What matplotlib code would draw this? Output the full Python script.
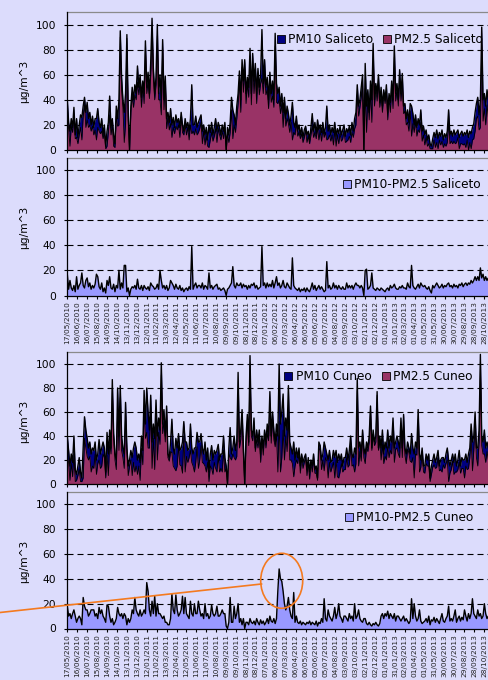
import numpy as np
import pandas as pd
import matplotlib
matplotlib.use("Agg")
import matplotlib.pyplot as plt
from matplotlib.patches import Rectangle, Ellipse
from matplotlib.lines import Line2D

# ---------------- data (one sample every 4 days) -------------
start_date = "17/05/2010"
sample_step_days = 4

date_labels = [
    "17/05/2010", "16/06/2010", "16/07/2010", "15/08/2010", "14/09/2010", "14/10/2010",
    "13/11/2010", "13/12/2010", "12/01/2011", "11/02/2011", "13/03/2011", "12/04/2011",
    "12/05/2011", "11/06/2011", "11/07/2011", "10/08/2011", "09/09/2011", "09/10/2011",
    "08/11/2011", "08/12/2011", "07/01/2012", "06/02/2012", "07/03/2012", "06/04/2012",
    "06/05/2012", "05/06/2012", "05/07/2012", "04/08/2012", "03/09/2012", "03/10/2012",
    "02/11/2012", "02/12/2012", "01/01/2013", "31/01/2013", "02/03/2013", "01/04/2013",
    "01/05/2013", "31/05/2013", "30/06/2013", "30/07/2013", "29/08/2013", "28/09/2013",
    "28/10/2013",
]

pm10_saliceto = [
    40, 22, 15, 25, 18, 34, 12, 25, 10, 20,
    28, 26, 35, 42, 30, 38, 25, 30, 20, 27,
    18, 25, 25, 33, 22, 18, 25, 12, 20, 3,
    15, 22, 43, 18, 25, 12, 5, 35, 25, 40,
    95, 58, 40, 30, 45, 92, 30, 0, 35, 50,
    40, 52, 45, 67, 50, 60, 42, 55, 45, 87,
    50, 62, 45, 70, 105, 65, 45, 58, 100, 45,
    60, 40, 88, 40, 59, 25, 30, 22, 33, 20,
    26, 18, 28, 22, 25, 18, 30, 20, 15, 25,
    18, 22, 15, 25, 52, 20, 20, 27, 18, 22,
    25, 28, 15, 20, 12, 18, 8, 20, 14, 22,
    12, 18, 25, 15, 22, 18, 12, 20, 15, 22,
    0, 18, 12, 22, 42, 32, 28, 20, 35, 45,
    63, 40, 72, 55, 72, 45, 58, 50, 81, 45,
    77, 55, 69, 45, 65, 50, 60, 96, 53, 72,
    50, 58, 40, 62, 45, 55, 40, 93, 53, 45,
    50, 35, 45, 30, 42, 25, 35, 29, 20, 27,
    38, 22, 18, 27, 15, 20, 12, 18, 10, 16,
    19, 12, 15, 8, 18, 29, 15, 22, 13, 24,
    16, 20, 14, 22, 13, 18, 35, 15, 20, 12,
    18, 14, 22, 11, 17, 13, 19, 12, 16, 20,
    11, 17, 14, 19, 12, 22, 15, 25, 30, 52,
    35, 40, 50, 60, 0, 69, 35, 48, 30, 55,
    40, 85, 40, 53, 45, 60, 38, 50, 35, 48,
    40, 52, 30, 45, 38, 55, 40, 83, 45, 53,
    40, 64, 45, 61, 35, 37, 25, 32, 22, 37,
    35, 29, 20, 28, 18, 25, 20, 32, 15, 19,
    12, 16, 8, 12, 5, 3, 9, 14, 10, 16,
    9, 14, 11, 16, 8, 13, 10, 15, 32, 12,
    15, 11, 16, 12, 14, 16, 10, 13, 15, 11,
    14, 12, 16, 10, 15, 13, 18, 21, 30, 37,
    42, 28, 40, 98, 40, 45, 35, 48, 40, 50,
    45,
]

coarse_saliceto = [  # PM10 - PM2.5
    17, 5, 12, 6, 4, 8, 3, 15, 5, 8,
    10, 18, 8, 6, 12, 14, 7, 10, 5, 8,
    6, 9, 17, 15, 7, 5, 10, 3, 6, 2,
    12, 8, 15, 6, 5, 9, 3, 8, 6, 20,
    5, 10, 6, 24, 24, 3, 6, 0, 5, 7,
    6, 8, 5, 13, 6, 5, 8, 4, 8, 6,
    5, 7, 4, 10, 8, 7, 5, 6, 9, 5,
    20, 12, 6, 8, 5, 8, 4, 6, 12, 10,
    8, 5, 9, 6, 5, 8, 4, 6, 3, 5,
    6, 4, 7, 5, 39, 5, 8, 10, 6, 8,
    8, 6, 10, 5, 8, 7, 5, 18, 6, 8,
    5, 7, 8, 9, 5, 6, 4, 5, 6, 4,
    0, 5, 6, 8, 10, 23, 8, 6, 10, 8,
    8, 10, 6, 9, 7, 8, 5, 8, 6, 9,
    8, 10, 6, 8, 5, 6, 7, 39, 8, 10,
    6, 10, 7, 9, 7, 12, 6, 10, 15, 8,
    10, 6, 8, 12, 7, 6, 10, 8, 6, 5,
    30, 8, 6, 5, 4, 6, 3, 5, 4, 6,
    3, 6, 4, 3, 6, 10, 5, 8, 4, 6,
    8, 5, 7, 5, 3, 4, 27, 6, 8, 5,
    6, 10, 6, 8, 5, 8, 6, 5, 7, 5,
    5, 10, 6, 8, 6, 8, 5, 8, 10, 8,
    8, 6, 8, 6, 0, 20, 21, 5, 6, 8,
    18, 6, 5, 4, 6, 5, 4, 6, 5, 4,
    3, 5, 6, 4, 8, 6, 7, 9, 6, 5,
    5, 7, 6, 8, 6, 6, 5, 10, 7, 6,
    24, 8, 6, 5, 7, 9, 6, 10, 8, 7,
    8, 6, 5, 7, 4, 2, 8, 6, 8, 10,
    8, 6, 7, 9, 6, 8, 7, 9, 10, 7,
    8, 6, 9, 7, 8, 6, 9, 8, 10, 7,
    9, 10, 8, 10, 9, 12, 10, 12, 15, 12,
    15, 12, 22, 14, 17, 12, 15, 12, 14, 12,
    14,
]

pm10_cuneo = [
    40, 28, 15, 25, 18, 40, 12, 8, 15, 22,
    10, 5, 30, 56, 45, 38, 30, 35, 25, 30,
    28, 35, 20, 25, 37, 25, 30, 35, 30, 10,
    43, 25, 45, 30, 87, 42, 25, 20, 80, 40,
    82, 40, 30, 25, 68, 30, 15, 20, 28, 22,
    30, 35, 30, 20, 25, 18, 40, 28, 78, 50,
    80, 60, 45, 74, 35, 50, 38, 70, 40, 55,
    45, 101, 50, 62, 40, 65, 25, 22, 35, 54,
    30, 25, 38, 30, 42, 28, 30, 35, 52, 35,
    35, 28, 30, 50, 30, 25, 30, 30, 43, 35,
    35, 42, 30, 25, 35, 20, 30, 10, 25, 32,
    20, 28, 25, 28, 33, 20, 25, 25, 40, 22,
    15, 0, 30, 47, 25, 30, 40, 28, 35, 93,
    35, 45, 62, 30, 0, 40, 58, 35, 107, 45,
    40, 55, 30, 45, 35, 45, 25, 40, 30, 45,
    35, 50, 40, 77, 40, 60, 45, 35, 50, 40,
    100, 50, 60, 75, 40, 55, 45, 82, 35, 30,
    25, 35, 20, 30, 22, 30, 15, 25, 18, 22,
    25, 12, 22, 10, 20, 15, 25, 12, 15, 5,
    35, 32, 20, 25, 35, 30, 25, 20, 28, 18,
    20, 28, 22, 28, 18, 25, 20, 25, 15, 22,
    22, 30, 20, 28, 40, 25, 22, 30, 25, 88,
    30, 35, 25, 45, 30, 25, 35, 30, 40, 65,
    30, 45, 35, 40, 77, 30, 40, 30, 45, 25,
    35, 30, 45, 30, 40, 35, 55, 30, 35, 40,
    35, 30, 55, 30, 58, 30, 25, 35, 30, 25,
    42, 30, 25, 35, 30, 62, 25, 20, 30, 15,
    15, 25, 20, 25, 5, 15, 20, 25, 18, 22,
    28, 15, 20, 22, 22, 18, 25, 30, 20, 15,
    20, 25, 18, 25, 15, 20, 28, 15, 22, 20,
    20, 25, 18, 25, 30, 50, 35, 40, 60, 30,
    30, 45, 108, 40, 35, 45, 30, 35, 30, 25,
    25,
]

coarse_cuneo = [  # PM10 - PM2.5
    18, 10, 12, 8, 12, 15, 10, 5, 8, 10,
    8, 3, 25, 18, 15, 15, 10, 12, 15, 15,
    15, 10, 12, 8, 17, 12, 15, 10, 8, 5,
    19, 18, 10, 5, 8, 3, 5, 8, 17, 12,
    10, 12, 8, 12, 10, 3, 8, 5, 8, 15,
    12, 25, 15, 12, 10, 15, 10, 12, 15, 12,
    37, 30, 15, 10, 22, 12, 26, 10, 20, 12,
    12, 10, 8, 10, 5, 5, 3, 3, 8, 28,
    15, 12, 27, 15, 10, 12, 15, 26, 12, 25,
    12, 10, 8, 22, 12, 10, 20, 12, 12, 22,
    15, 10, 12, 8, 20, 10, 12, 8, 10, 19,
    12, 10, 12, 18, 10, 10, 12, 15, 12, 12,
    2, 0, 5, 25, 5, 5, 18, 8, 12, 20,
    5, 8, 3, 8, 0, 5, 5, 3, 8, 5,
    4, 6, 3, 8, 5, 3, 7, 4, 6, 3,
    5, 8, 4, 10, 6, 5, 8, 4, 8, 30,
    48, 40, 38, 30, 20, 15, 18, 25, 15, 10,
    8, 29, 5, 10, 5, 4, 6, 3, 5, 4,
    3, 5, 4, 6, 3, 5, 4, 3, 6, 2,
    5, 4, 8, 5, 24, 8, 6, 15, 10, 8,
    6, 10, 17, 8, 12, 20, 10, 8, 5, 10,
    10, 8, 6, 12, 8, 10, 6, 20, 8, 10,
    15, 8, 6, 5, 8, 8, 4, 3, 5, 3,
    2, 4, 3, 5, 3, 2, 4, 10, 12, 8,
    12, 10, 14, 8, 12, 10, 8, 12, 6, 10,
    10, 8, 6, 8, 10, 6, 8, 6, 4, 6,
    24, 8, 20, 10, 6, 8, 15, 6, 4, 5,
    6, 8, 5, 10, 3, 7, 6, 9, 5, 8,
    6, 4, 8, 12, 6, 5, 8, 10, 18, 6,
    8, 6, 10, 15, 5, 8, 10, 6, 9, 7,
    15, 10, 6, 12, 8, 12, 24, 12, 10, 8,
    15, 10, 12, 8, 10, 20, 12, 8, 10, 12,
    10,
]

legend_top_sal = ["PM10 Saliceto", "PM2.5 Saliceto"]
legend_diff_sal = "PM10-PM2.5 Saliceto"
legend_top_cun = ["PM10 Cuneo", "PM2.5 Cuneo"]
legend_diff_cun = "PM10-PM2.5 Cuneo"
y_label = "µg/m^3"
y_ticks = [0, 20, 40, 60, 80, 100]

# ---------------- styling ----------------
BG = "#DCDCFC"
NAVY = "#000080"
PLUM = "#993366"
PERI = "#9999FF"
ORANGE = "#F47A1F"
plt.rcParams["font.family"] = ["DejaVu Sans"]

W, H = 488, 680
fig = plt.figure(figsize=(W / 100, H / 100), dpi=100, facecolor=BG)


def fx(x):
    return x / W


def fy(y):
    return 1 - y / H


start = pd.to_datetime(start_date, dayfirst=True)
tick_pos = (pd.to_datetime(date_labels, dayfirst=True) - start).days.values
days = np.arange(len(pm10_saliceto)) * sample_step_days

pm10_s = np.array(pm10_saliceto, float)
co_s = np.array(coarse_saliceto, float)
pm25_s = np.maximum(pm10_s - co_s, 0)
pm10_c = np.array(pm10_cuneo, float)
co_c = np.array(coarse_cuneo, float)
pm25_c = np.maximum(pm10_c - co_c, 0)

LEFT, RIGHT = 67.3, 497.6
XMAX = 1300

panels = [(12.0, 150.0), (157.5, 295.5), (352.0, 484.0), (492.0, 628.5)]
ylabel_centers = [81.5, 227.0, 421.0, 561.0]


def make_ax(top, bottom, labels):
    ax = fig.add_axes([fx(LEFT), fy(bottom), (RIGHT - LEFT) / W, (bottom - top) / H])
    ax.set_facecolor(BG)
    ax.set_xlim(0, XMAX)
    ax.set_ylim(0, 110)
    ax.set_yticks(y_ticks)
    ax.set_axisbelow(True)
    ax.yaxis.grid(True, color="black", linestyle=(0, (5.4, 3.6)), linewidth=0.8)
    for s in ("top", "right"):
        ax.spines[s].set_color("#8a8a8a")
        ax.spines[s].set_linewidth(0.9)
    for s in ("left", "bottom"):
        ax.spines[s].set_color("black")
        ax.spines[s].set_linewidth(0.9)
        ax.spines[s].set_zorder(6)
    ax.tick_params(axis="y", length=2.5, width=0.8, pad=5.5, labelsize=7.7,
                   colors="black")
    ax.set_xticks(tick_pos)
    if labels:
        ax.set_xticklabels(date_labels, rotation=90, fontsize=5.3, color="#222222")
    else:
        ax.set_xticklabels([])
    ax.tick_params(axis="x", length=2.2, width=0.8, pad=2.0, direction="out")
    return ax


def draw_pair(ax, pm10, pm25):
    ax.fill_between(days, pm10, 0, color=NAVY, linewidth=0, zorder=2)
    ax.fill_between(days, pm25, 0, color=PLUM, linewidth=0, zorder=3)
    ax.plot(days, pm25, color="black", linewidth=0.6, zorder=4)
    ax.plot(days, pm10, color="black", linewidth=1.0, zorder=5)


def draw_diff(ax, diff):
    ax.fill_between(days, diff, 0, color=PERI, linewidth=0, zorder=2)
    ax.plot(days, diff, color="black", linewidth=1.0, zorder=5)


ax1 = make_ax(*panels[0], labels=False)
draw_pair(ax1, pm10_s, pm25_s)
ax2 = make_ax(*panels[1], labels=True)
draw_diff(ax2, co_s)
ax3 = make_ax(*panels[2], labels=False)
draw_pair(ax3, pm10_c, pm25_c)
ax4 = make_ax(*panels[3], labels=True)
draw_diff(ax4, co_c)

for yc in ylabel_centers:
    fig.text(fx(24), fy(yc), y_label, rotation=90, ha="center", va="center",
             fontsize=7.7, color="black")


def legend_item(x, y, color, text):
    # x, y: top-left of the square in pixels
    fig.add_artist(Rectangle((fx(x), fy(y + 8.5)), 8 / W, 8.5 / H,
                             transform=fig.transFigure, facecolor=color,
                             edgecolor="black", linewidth=0.6))
    fig.text(fx(x + 11.5), fy(y + 4.6), text, ha="left", va="center",
             fontsize=8.7, color="black")


legend_item(276.7, 34.5, NAVY, legend_top_sal[0])
legend_item(382.7, 34.5, PLUM, legend_top_sal[1])
legend_item(342.7, 179.8, PERI, legend_diff_sal)
legend_item(284.3, 371.5, NAVY, legend_top_cun[0])
legend_item(381.7, 371.5, PLUM, legend_top_cun[1])
legend_item(344.7, 512.5, PERI, legend_diff_cun)

# orange highlight of the Cuneo coarse-fraction episode
fig.add_artist(Line2D([fx(0), fx(261.5)], [fy(612.5), fy(584.0)],
                      transform=fig.transFigure, color=ORANGE, linewidth=1.2))
fig.add_artist(Ellipse((fx(281.7), fy(580.8)), 42 / W, 55 / H,
                       transform=fig.transFigure, fill=False,
                       edgecolor=ORANGE, linewidth=1.2))

fig.savefig("out.png", dpi=100, facecolor=BG)
